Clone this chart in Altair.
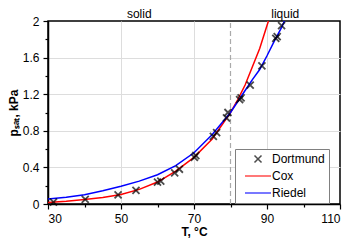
import altair as alt
import pandas as pd

# Dortmund data bank points
dortmund_T = [31.5, 40.2, 49.2, 54.1, 60.0, 60.9, 64.7, 66.0, 70.1, 70.5, 75.3,
              76.2, 78.9, 79.3, 82.5, 82.9, 85.4, 88.6, 92.4, 92.8, 94.0]
dortmund_p = [0.02, 0.05, 0.10, 0.15, 0.24, 0.25, 0.34, 0.38, 0.51, 0.53, 0.74,
              0.78, 0.94, 1.00, 1.14, 1.16, 1.30, 1.51, 1.81, 1.83, 1.95]

# Cox equation curve
cox_T = [30, 35, 40, 45, 50, 55, 60, 65, 70, 75, 80, 82, 84, 86, 88, 90, 90.4]
cox_p = [0.017, 0.03, 0.048, 0.07, 0.103, 0.16, 0.24, 0.36, 0.51, 0.71, 1.0,
         1.14, 1.3, 1.5, 1.7, 1.95, 2.0]

# Riedel equation curve
riedel_T = [30, 35, 40, 45, 50, 55, 60, 65, 70, 75, 80, 82, 84, 86, 88, 90, 92, 94, 94.8]
riedel_p = [0.055, 0.075, 0.10, 0.145, 0.195, 0.25, 0.32, 0.42, 0.56, 0.76, 1.0,
            1.12, 1.24, 1.36, 1.47, 1.62, 1.78, 1.93, 2.0]

series_names = ["Dortmund", "Cox", "Riedel"]
series_colors = ["black", "#ff0000", "#0000ff"]
series_shapes = ["M-0.27,-0.27L0.27,0.27M-0.27,0.27L0.27,-0.27", "stroke", "stroke"]

melt_T = [80]
phase_labels = ["solid", "liquid"]
phase_T = [55, 95]

x_ticks = [30, 40, 50, 60, 70, 80, 90, 100, 110]
y_ticks = [0, 0.2, 0.4, 0.6, 0.8, 1.0, 1.2, 1.4, 1.6, 1.8, 2.0]

pts = pd.DataFrame({"T": dortmund_T, "p": dortmund_p, "series": "Dortmund"})
lines = pd.concat([
    pd.DataFrame({"T": cox_T, "p": cox_p, "series": "Cox"}),
    pd.DataFrame({"T": riedel_T, "p": riedel_p, "series": "Riedel"}),
])
melt = pd.DataFrame({"T": melt_T, "p0": [0.0], "p1": [2.0]})
phases = pd.DataFrame({"T": phase_T, "label": phase_labels})

FONT = "Liberation Sans"

x_scale = alt.Scale(domain=[30, 110], nice=False, zero=False)
y_scale = alt.Scale(domain=[0, 2], nice=False)

x_axis = alt.Axis(
    values=x_ticks, format="d", labelOverlap=False,
    labelExpr="datum.value % 20 == 10 ? datum.label : ''",
    gridOpacity={"condition": {"test": "datum.value % 20 == 10 && datum.value > 30 && datum.value < 110", "value": 1}, "value": 0},
    tickSize={"condition": {"test": "datum.value % 20 == 10", "value": 5}, "value": 3},
    title="T, °C", labelPadding=4, titlePadding=2,
)
y_axis = alt.Axis(
    values=y_ticks, format="~g", labelOverlap=False,
    labelExpr="round(datum.value * 10) % 4 == 0 ? datum.label : ''",
    gridOpacity={"condition": {"test": "round(datum.value * 10) % 4 == 0 && datum.value > 0.01 && datum.value < 1.99", "value": 1}, "value": 0},
    tickSize={"condition": {"test": "round(datum.value * 10) % 4 == 0", "value": 5}, "value": 3},
    title="pₛₐₜ, kPa", labelPadding=4, titlePadding=2,
)

color_scale = alt.Scale(domain=series_names, range=series_colors)
shape_scale = alt.Scale(domain=series_names, range=series_shapes)
legend = alt.Legend(
    title=None, orient="none", legendX=187, legendY=128,
    strokeColor="#808080", fillColor="white", padding=4,
    symbolOffset=5, labelOffset=0, clipHeight=12, rowPadding=5,
    symbolSize=676, symbolStrokeWidth=1.5, labelFontSize=12, labelFont=FONT,
    cornerRadius=0,
)

X = lambda f: alt.X(f, type="quantitative", scale=x_scale, axis=x_axis)
Y = lambda f: alt.Y(f, type="quantitative", scale=y_scale, axis=y_axis)

rule = alt.Chart(melt).mark_rule(color="#aaaaaa", strokeDash=[5, 3], strokeWidth=1.2).encode(
    x=X("T"),
    y=Y("p0"),
    y2="p1:Q",
)

line_layer = alt.Chart(lines).mark_line(strokeWidth=1.5, clip=True).encode(
    x=X("T"),
    y=Y("p"),
    color=alt.Color("series:N", scale=color_scale, legend=legend),
    detail="series:N",
)

point_layer = alt.Chart(pts).mark_point(filled=False, size=676, strokeWidth=1.8).encode(
    x=X("T"),
    y=Y("p"),
    color=alt.Color("series:N", scale=color_scale, legend=legend),
    shape=alt.Shape("series:N", scale=shape_scale, legend=legend),
)

text_layer = alt.Chart(phases).mark_text(fontSize=12, font=FONT, color="black", baseline="alphabetic").encode(
    x=X("T"),
    y=alt.value(-3),
    text="label:N",
)

chart = alt.layer(rule, line_layer, point_layer, text_layer).properties(
    width=292, height=183,
    autosize=alt.AutoSizeParams(type="none"),
    padding={"left": 40, "top": 13, "right": 2, "bottom": 37},
).configure_view(
    stroke="black", strokeWidth=1.5,
).configure_axis(
    labelFont=FONT, titleFont=FONT, labelFontSize=12, titleFontSize=12,
    titleFontWeight="bold", labelColor="black", titleColor="black",
    domainColor="black", domainWidth=1.5, tickColor="black", tickWidth=1.2,
    gridColor="#dddddd", gridWidth=1, labelOverlap=False,
)

chart.save("out.html", embed_options={"renderer": "svg", "actions": False})
